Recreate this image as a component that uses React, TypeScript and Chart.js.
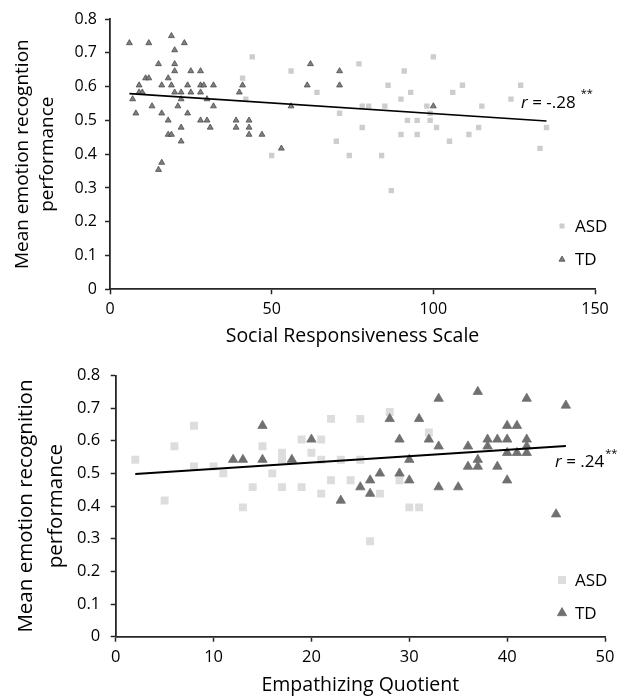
import React, { useEffect, useRef } from 'react';
import { Chart, registerables } from 'chart.js';

Chart.register(...registerables);

const FONT = "'Open Sans', sans-serif";

// ---------- Panel 1: Social Responsiveness Scale ----------
const srsAsdX = [44, 41, 42, 56, 64, 71, 70, 74, 50, 77, 100, 91, 86, 109, 127, 93, 106, 90, 124, 78, 80, 85, 98, 115, 99, 92, 95, 99, 78, 101, 114, 135, 90, 95, 111, 105, 133, 84, 87];
const srsAsdY = [0.688, 0.625, 0.563, 0.646, 0.583, 0.521, 0.438, 0.396, 0.396, 0.667, 0.688, 0.646, 0.604, 0.604, 0.604, 0.583, 0.583, 0.563, 0.563, 0.542, 0.542, 0.542, 0.542, 0.542, 0.521, 0.5, 0.5, 0.5, 0.479, 0.479, 0.479, 0.479, 0.458, 0.458, 0.458, 0.438, 0.417, 0.396, 0.292];
const srsTdX = [6, 12, 19, 23, 20, 15, 20, 20, 25, 28, 11, 12, 18, 9, 16, 19, 24, 28, 29, 32, 9, 10, 20, 22, 25, 28, 7, 22, 30, 13, 21, 32, 8, 16, 24, 18, 28, 30, 22, 31, 18, 19, 22, 16, 15, 39, 43, 39, 43, 43, 47, 40, 41, 53, 56, 62, 61, 71, 71, 100];
const srsTdY = [0.729, 0.729, 0.75, 0.729, 0.708, 0.667, 0.667, 0.646, 0.646, 0.646, 0.625, 0.625, 0.625, 0.604, 0.604, 0.604, 0.604, 0.604, 0.604, 0.604, 0.583, 0.583, 0.583, 0.583, 0.583, 0.583, 0.563, 0.563, 0.563, 0.542, 0.542, 0.542, 0.521, 0.521, 0.521, 0.5, 0.5, 0.5, 0.479, 0.479, 0.458, 0.458, 0.438, 0.375, 0.354, 0.5, 0.5, 0.479, 0.479, 0.458, 0.458, 0.583, 0.604, 0.417, 0.542, 0.667, 0.604, 0.646, 0.604, 0.542];
const srsFitX = [6, 135];
const srsFitY = [0.579, 0.498];

// ---------- Panel 2: Empathizing Quotient ----------
const eqAsdX = [2, 5, 6, 8, 8, 10, 11, 13, 14, 15, 17, 17, 16, 17, 19, 19, 20, 21, 21, 22, 22, 21, 23, 24, 25, 25, 28, 32, 29, 27, 30, 31, 26];
const eqAsdY = [0.542, 0.417, 0.583, 0.646, 0.521, 0.521, 0.5, 0.396, 0.458, 0.583, 0.563, 0.542, 0.5, 0.458, 0.604, 0.458, 0.563, 0.604, 0.542, 0.667, 0.479, 0.438, 0.542, 0.479, 0.667, 0.542, 0.688, 0.625, 0.479, 0.438, 0.396, 0.396, 0.292];
const eqTdX = [15, 12, 13, 15, 18, 20, 23, 33, 37, 42, 46, 28, 31, 40, 41, 29, 32, 38, 39, 40, 42, 33, 36, 38, 42, 40, 41, 42, 30, 37, 36, 37, 39, 27, 29, 26, 30, 40, 25, 33, 35, 26, 45];
const eqTdY = [0.646, 0.542, 0.542, 0.542, 0.542, 0.604, 0.417, 0.729, 0.75, 0.729, 0.708, 0.667, 0.667, 0.646, 0.646, 0.604, 0.604, 0.604, 0.604, 0.604, 0.604, 0.583, 0.583, 0.583, 0.583, 0.563, 0.563, 0.563, 0.542, 0.542, 0.521, 0.521, 0.521, 0.5, 0.5, 0.479, 0.479, 0.479, 0.458, 0.458, 0.458, 0.438, 0.375];
const eqFitX = [2, 46];
const eqFitY = [0.498, 0.584];

const groupLabels = ['ASD', 'TD'];
const yAxisMin = 0;
const yAxisMax = 0.8;
const yAxisStep = 0.1;

const toPts = (xs: number[], ys: number[]) => xs.map((x, i) => ({ x, y: ys[i] }));

type Spec = {
  height: number;
  top: number;
  plotLeft: number;
  plotRight: number;
  plotTop: number;
  plotBottom: number;
  xMax: number;
  xStep: number;
  xTitle: string;
  yTitle: string[];
  asdX: number[]; asdY: number[];
  tdX: number[]; tdY: number[];
  fitX: number[]; fitY: number[];
  rText: string;
  rX: number; rY: number; starDX: number; starDY: number;
  legX: number; legY: number; legGap: number;
  asdColor: string; tdFill: string; tdBorder: string;
  rectR: number; triR: number; legRect: number; legTri: number;
  yTitleSize: number; yTitleLH: number; yTitlePad: number;
  xTitleSize: number; xTitlePad: number;
  tickSize: number; yTickPad: number; xTickPad: number;
  fitWidth: number;
};

function overlay(spec: Spec) {
  return {
    id: 'overlay',
    afterDatasetsDraw(chart: any) {
      const ctx: CanvasRenderingContext2D = chart.ctx;
      ctx.save();
      // legend
      groupLabels.forEach((lab, i) => {
        const x = spec.legX;
        const y = spec.legY + i * spec.legGap;
        if (lab === 'ASD') {
          const s = spec.legRect;
          ctx.fillStyle = spec.asdColor;
          ctx.fillRect(x - s / 2, y - s / 2, s, s);
        } else {
          const r = spec.legTri;
          ctx.fillStyle = spec.tdFill;
          ctx.strokeStyle = spec.tdBorder;
          ctx.lineWidth = 0.8;
          ctx.beginPath();
          ctx.moveTo(x, y - r);
          ctx.lineTo(x + r * 0.866, y + r / 2);
          ctx.lineTo(x - r * 0.866, y + r / 2);
          ctx.closePath();
          ctx.fill();
          ctx.stroke();
        }
        ctx.fillStyle = '#000';
        ctx.font = `17px ${FONT}`;
        ctx.textBaseline = 'middle';
        ctx.textAlign = 'left';
        ctx.fillText(lab, x + 13, y + 1);
      });
      // r label
      ctx.fillStyle = '#000';
      ctx.textBaseline = 'middle';
      ctx.textAlign = 'left';
      ctx.font = `italic 17px ${FONT}`;
      ctx.fillText('r', spec.rX, spec.rY);
      const rw = ctx.measureText('r').width;
      ctx.font = `17px ${FONT}`;
      ctx.fillText(spec.rText, spec.rX + rw, spec.rY);
      const tw = ctx.measureText(spec.rText).width;
      ctx.font = `11px ${FONT}`;
      ctx.fillText('**', spec.rX + rw + tw + spec.starDX, spec.rY + spec.starDY);
      ctx.restore();
    },
  };
}

function buildConfig(spec: Spec): any {
  const axisColor = '#262626';
  return {
    type: 'scatter',
    data: {
      datasets: [
        {
          label: 'fit',
          data: toPts(spec.fitX, spec.fitY),
          showLine: true,
          borderColor: '#000',
          borderWidth: spec.fitWidth,
          pointRadius: 0,
          fill: false,
          order: 0,
        },
        {
          label: 'TD',
          data: toPts(spec.tdX, spec.tdY),
          pointStyle: 'triangle',
          pointRadius: spec.triR,
          backgroundColor: spec.tdFill,
          borderColor: spec.tdBorder,
          borderWidth: 0.8,
          order: 1,
        },
        {
          label: 'ASD',
          data: toPts(spec.asdX, spec.asdY),
          pointStyle: 'rect',
          pointRadius: spec.rectR,
          backgroundColor: spec.asdColor,
          borderColor: spec.asdColor,
          borderWidth: 0,
          order: 2,
        },
      ],
    },
    options: {
      animation: false,
      responsive: false,
      events: [],
      layout: { padding: { top: spec.plotTop, right: 627 - spec.plotRight, left: 0, bottom: 0 } },
      plugins: { legend: { display: false }, tooltip: { enabled: false } },
      scales: {
        x: {
          type: 'linear',
          min: 0,
          max: spec.xMax,
          ticks: { stepSize: spec.xStep, color: '#000', font: { family: FONT, size: spec.tickSize }, padding: spec.xTickPad },
          grid: { display: true, drawOnChartArea: false, drawTicks: true, tickLength: 5, tickWidth: 1.5, tickColor: axisColor },
          border: { display: true, color: axisColor, width: 1.8 },
          title: { display: true, text: spec.xTitle, color: '#000', font: { family: FONT, size: spec.xTitleSize, lineHeight: 1.3 }, padding: { top: 0, bottom: spec.xTitlePad } },
          afterFit: (s: any) => { s.height = spec.height - spec.plotBottom; },
        },
        y: {
          type: 'linear',
          min: yAxisMin,
          max: yAxisMax,
          ticks: { stepSize: yAxisStep, color: '#000', font: { family: FONT, size: spec.tickSize }, padding: spec.yTickPad },
          grid: { display: true, drawOnChartArea: false, drawTicks: true, tickLength: 5, tickWidth: 1.5, tickColor: axisColor },
          border: { display: true, color: axisColor, width: 1.8 },
          title: { display: true, text: spec.yTitle, color: '#000', font: { family: FONT, size: spec.yTitleSize, lineHeight: spec.yTitleLH }, padding: { top: spec.yTitlePad, bottom: 0 } },
          afterFit: (s: any) => { s.width = spec.plotLeft; },
        },
      },
    },
    plugins: [overlay(spec)],
  };
}

const topSpec: Spec = {
  height: 355, top: 0,
  plotLeft: 110, plotRight: 595, plotTop: 19, plotBottom: 289.3,
  xMax: 150, xStep: 50,
  xTitle: 'Social Responsiveness Scale',
  yTitle: ['Mean emotion recogntion', 'performance'],
  asdX: srsAsdX, asdY: srsAsdY, tdX: srsTdX, tdY: srsTdY, fitX: srsFitX, fitY: srsFitY,
  rText: ' = -.28', rX: 521, rY: 103, starDX: 5, starDY: -9,
  legX: 562, legY: 226, legGap: 33.5,
  asdColor: '#cdcdcd', tdFill: '#808080', tdBorder: '#4a4a4a',
  rectR: 3.8, triR: 3.4, legRect: 5, legTri: 3.4,
  yTitleSize: 19, yTitleLH: 1.3, yTitlePad: 10.5,
  xTitleSize: 19.5, xTitlePad: 6,
  tickSize: 16, yTickPad: 8, xTickPad: 6,
  fitWidth: 1.6,
};

const bottomSpec: Spec = {
  height: 352, top: 355,
  plotLeft: 115.7, plotRight: 605, plotTop: 10.7, plotBottom: 281.7,
  xMax: 50, xStep: 10,
  xTitle: 'Empathizing Quotient',
  yTitle: ['Mean emotion recognition', 'performance'],
  asdX: eqAsdX, asdY: eqAsdY, tdX: eqTdX, tdY: eqTdY, fitX: eqFitX, fitY: eqFitY,
  rText: ' = .24', rX: 555, rY: 107, starDX: 1, starDY: -8,
  legX: 562, legY: 225, legGap: 33,
  asdColor: '#dddddd', tdFill: '#707070', tdBorder: '#707070',
  rectR: 5.6, triR: 5.4, legRect: 8, legTri: 5.4,
  yTitleSize: 20.5, yTitleLH: 1.42, yTitlePad: 12,
  xTitleSize: 19.5, xTitlePad: 8.5,
  tickSize: 16.5, yTickPad: 10.5, xTickPad: 6,
  fitWidth: 2,
};

function Panel({ spec }: { spec: Spec }) {
  const ref = useRef<HTMLCanvasElement>(null);
  useEffect(() => {
    if (!ref.current) return;
    const chart = new Chart(ref.current, buildConfig(spec));
    return () => chart.destroy();
  }, [spec]);
  return (
    <canvas
      ref={ref}
      width={627}
      height={spec.height}
      style={{ position: 'absolute', left: 0, top: spec.top, width: 627, height: spec.height }}
    />
  );
}

export default function App() {
  return (
    <div style={{ position: 'absolute', left: 0, top: 0, width: 627, height: 697, overflow: 'hidden', background: '#fff' }}>
      <Panel spec={topSpec} />
      <Panel spec={bottomSpec} />
    </div>
  );
}
